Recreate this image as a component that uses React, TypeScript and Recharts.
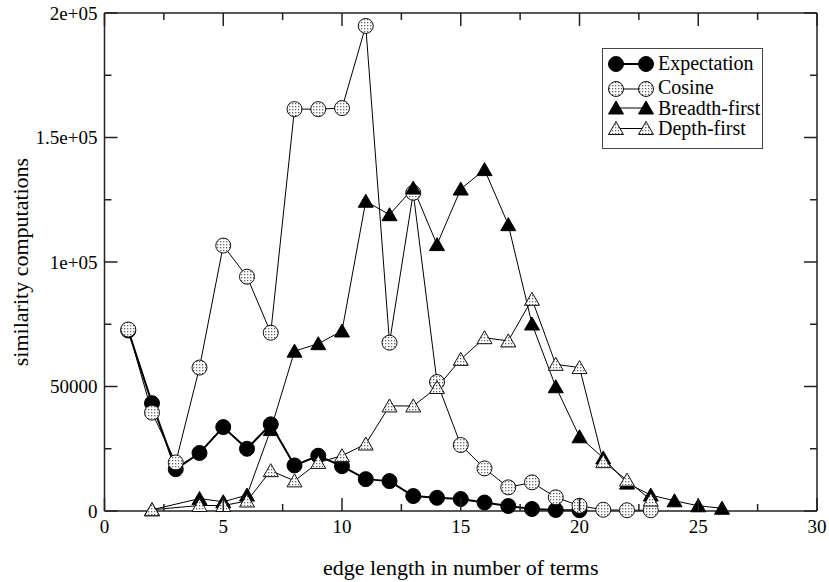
import React from 'react';
import { LineChart, Line, XAxis, YAxis, Legend, ReferenceLine } from 'recharts';

const X_VALUES = [1, 2, 3, 4, 5, 6, 7, 8, 9, 10, 11, 12, 13, 14, 15, 16, 17, 18, 19, 20, 21, 22, 23, 24, 25, 26];
const EXPECTATION = [72500, 43300, 16800, 23300, 33700, 25000, 34800, 18300, 22200, 18000, 12800, 12000, 6000, 5300, 4800, 3400, 2000, 800, 400, 300, null, null, null, null, null, null];
const COSINE = [72900, 39500, 19500, 57600, 106600, 94100, 71600, 161400, 161400, 161800, 194800, 67600, 127800, 51800, 26500, 17100, 9500, 11500, 5500, 2100, 500, 300, 300, null, null, null];
const BREADTH = [null, 500, null, 5000, 3700, 6400, 32700, 64200, 67200, 72300, 124400, 119000, 129700, 107000, 129300, 137100, 115000, 75100, 49900, 29800, 21300, 11200, 6400, 4100, 2100, 1100];
const DEPTH = [null, 500, null, 2200, 2200, 4000, 16200, 12100, 19500, 22200, 26900, 42200, 42200, 49600, 60900, 69600, 68300, 85000, 58900, 57600, 19800, 12400, 4400, null, null, null];

const SERIES_NAMES = ['Expectation', 'Cosine', 'Breadth-first', 'Depth-first'];
const SERIES_KEYS = ['expectation', 'cosine', 'breadth', 'depth'];
const SERIES_MARKERS = ['filledCircle', 'dotCircle', 'filledTri', 'dotTri'];
const SERIES_WIDTHS = [2, 1, 1, 1];

const X_DOMAIN = [0, 30];
const Y_DOMAIN = [0, 200000];
const X_TICKS = [0, 2.5, 5, 7.5, 10, 12.5, 15, 17.5, 20, 22.5, 25, 27.5, 30];
const Y_TICKS = [0, 25000, 50000, 75000, 100000, 125000, 150000, 175000, 200000];
const Y_TICK_LABELS: Record<number, string> = { 0: '0', 50000: '50000', 100000: '1e+05', 150000: '1.5e+05', 200000: '2e+05' };
const X_TITLE = 'edge length in number of terms';
const Y_TITLE = 'similarity computations';

const data = X_VALUES.map((x, i) => ({
  x,
  expectation: EXPECTATION[i],
  cosine: COSINE[i],
  breadth: BREADTH[i],
  depth: DEPTH[i],
}));

// layout
const W = 829;
const H = 582;
const PLOT_LEFT = 104.5;
const PLOT_TOP = 13;
const PLOT_RIGHT = 817;
const PLOT_BOTTOM = 511;

const FONT = "'Liberation Serif', 'DejaVu Serif', serif";
const FRAME = '#222';
const TICK_W = 1.5;
const MAJOR = 13;
const MINOR = 7;

function Marker({ kind, cx, cy, fillId }: { kind: string; cx: number; cy: number; fillId: string }) {
  const dotted = `url(#${fillId})`;
  if (kind === 'filledCircle') return <circle cx={cx} cy={cy} r={7.5} fill="#000" stroke="#000" strokeWidth={1} />;
  if (kind === 'dotCircle') return <circle cx={cx} cy={cy} r={7.5} fill={dotted} stroke="#111" strokeWidth={1} />;
  const pts = `${cx},${cy - 7} ${cx - 7.5},${cy + 6} ${cx + 7.5},${cy + 6}`;
  if (kind === 'filledTri') return <polygon points={pts} fill="#000" stroke="#000" strokeWidth={1} />;
  return <polygon points={pts} fill={dotted} stroke="#111" strokeWidth={1} />;
}

function DotsPattern({ id }: { id: string }) {
  return (
    <pattern id={id} width={3} height={3} patternUnits="userSpaceOnUse">
      <rect width={3} height={3} fill="#fff" />
      <rect x={1} y={1} width={1.3} height={1.3} fill="#666" />
    </pattern>
  );
}

const makeDot = (kind: string, name: string) => (props: any) => {
  const { cx, cy, index, value } = props;
  if (cx == null || cy == null || value == null || (Array.isArray(value) && value[1] == null)) return <g key={`${name}-${index}`} />;
  return (
    <g key={`${name}-${index}`}>
      <Marker kind={kind} cx={cx} cy={cy} fillId="dots" />
    </g>
  );
};

const vTick = (x: number, y: number, len: number) => (
  <rect x={x - TICK_W / 2} y={Math.min(y, y + len)} width={TICK_W} height={Math.abs(len)} fill={FRAME} stroke="none" />
);
const hTick = (x: number, y: number, len: number) => (
  <rect x={Math.min(x, x + len)} y={y - TICK_W / 2} width={Math.abs(len)} height={TICK_W} fill={FRAME} stroke="none" />
);

// bottom axis tick: inward tick at bottom and matching tick on the top frame, label for majors
const XTick = (props: any) => {
  const x = Number(props.x);
  const y = Number(props.y);
  const v = props.payload.value;
  const major = v % 5 === 0;
  const len = major ? MAJOR : MINOR;
  return (
    <g>
      {vTick(x, y, -len)}
      {vTick(x, PLOT_TOP, len)}
      {major && (
        <text x={x} y={y + 22} textAnchor="middle" fontSize={19} fontFamily={FONT} fill="#000" stroke="none">
          {v}
        </text>
      )}
    </g>
  );
};

// left axis tick: inward tick at left and matching tick on the right frame, label for majors
const YTick = (props: any) => {
  const x = Number(props.x);
  const y = Number(props.y);
  const label = Y_TICK_LABELS[props.payload.value];
  const len = label !== undefined ? MAJOR : MINOR;
  return (
    <g>
      {hTick(x, y, len)}
      {hTick(PLOT_RIGHT, y, -len)}
      {label !== undefined && (
        <text x={x - 7} y={y + 6.5} textAnchor="end" fontSize={19} fontFamily={FONT} fill="#000" stroke="none">
          {label}
        </text>
      )}
    </g>
  );
};

const LEGEND_MARKER_Y = [16, 41, 60, 80.5];
const LEGEND_TEXT_Y = [21.5, 46, 66.5, 87];

const renderLegend = () => (
  <svg width={162} height={102} style={{ display: 'block' }}>
    <defs>
      <DotsPattern id="dotsLegend" />
    </defs>
    <rect x={0.5} y={0.5} width={160} height={100} fill="#fff" stroke="#444" strokeWidth={1} />
    {SERIES_NAMES.map((name, i) => (
      <g key={name}>
        <line x1={14} x2={44} y1={LEGEND_MARKER_Y[i]} y2={LEGEND_MARKER_Y[i]} stroke="#000" strokeWidth={SERIES_WIDTHS[i]} />
        <Marker kind={SERIES_MARKERS[i]} cx={14} cy={LEGEND_MARKER_Y[i]} fillId="dotsLegend" />
        <Marker kind={SERIES_MARKERS[i]} cx={44} cy={LEGEND_MARKER_Y[i]} fillId="dotsLegend" />
        <text x={56} y={LEGEND_TEXT_Y[i]} fontSize={20} fontFamily={FONT} fill="#000">
          {name}
        </text>
      </g>
    ))}
  </svg>
);

export default function App() {
  return (
    <div style={{ position: 'absolute', left: 0, top: 0, width: W, height: H, background: '#fff' }}>
      <LineChart
        width={W}
        height={H}
        data={data}
        margin={{ top: PLOT_TOP, right: W - PLOT_RIGHT, bottom: 0, left: 0 }}
      >
        <defs>
          <DotsPattern id="dots" />
        </defs>
        <XAxis
          dataKey="x"
          type="number"
          domain={X_DOMAIN}
          ticks={X_TICKS}
          interval={0}
          height={H - PLOT_BOTTOM}
          tickSize={0}
          tickMargin={0}
          tickLine={false}
          axisLine={{ stroke: FRAME, strokeWidth: 1.5 }}
          tick={XTick}
          label={{
            content: () => (
              <text x={(PLOT_LEFT + PLOT_RIGHT) / 2} y={575} textAnchor="middle" fontSize={22} fontFamily={FONT} fill="#000">
                {X_TITLE}
              </text>
            ),
          }}
        />
        <YAxis
          type="number"
          domain={Y_DOMAIN}
          ticks={Y_TICKS}
          interval={0}
          width={PLOT_LEFT}
          tickSize={0}
          tickMargin={0}
          tickLine={false}
          axisLine={{ stroke: FRAME, strokeWidth: 1.5 }}
          tick={YTick}
          label={{
            content: () => (
              <text x={28} y={262} transform="rotate(-90 28 262)" textAnchor="middle" fontSize={22} fontFamily={FONT} fill="#000">
                {Y_TITLE}
              </text>
            ),
          }}
        />
        <ReferenceLine y={Y_DOMAIN[1]} stroke={FRAME} strokeWidth={1.5} ifOverflow="visible" />
        <ReferenceLine x={X_DOMAIN[1]} stroke={FRAME} strokeWidth={1.5} ifOverflow="visible" />
        <Legend
          layout="vertical"
          align="center"
          verticalAlign="middle"
          content={renderLegend}
          wrapperStyle={{ left: 602, top: 48, width: 162, height: 102 }}
        />
        {SERIES_KEYS.map((key, i) => (
          <Line
            key={key}
            type="linear"
            dataKey={key}
            name={SERIES_NAMES[i]}
            stroke="#000"
            strokeWidth={SERIES_WIDTHS[i]}
            connectNulls
            isAnimationActive={false}
            dot={makeDot(SERIES_MARKERS[i], key)}
            activeDot={false}
          />
        ))}
      </LineChart>
    </div>
  );
}
